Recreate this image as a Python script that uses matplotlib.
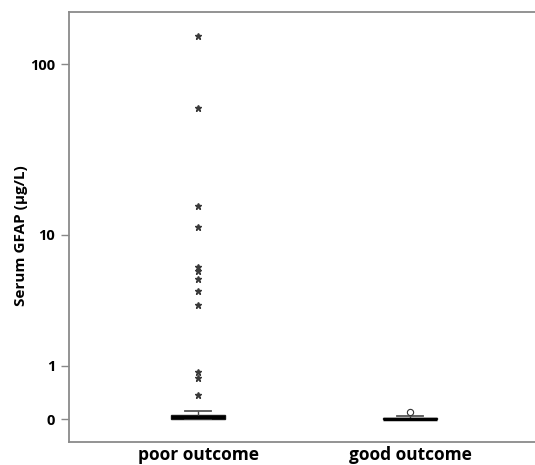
import matplotlib
matplotlib.use("Agg")
import matplotlib.pyplot as plt
import numpy as np

# Data, serum GFAP in ug/L
groups = ["poor outcome", "good outcome"]
poor_box = dict(whislo=0.0, q1=0.0, med=0.025, q3=0.06, whishi=0.118)
good_box = dict(whislo=0.0, q1=0.0, med=0.005, q3=0.015, whishi=0.045)
poor_extremes = [144.5, 56.5, 15.0, 11.2, 6.27, 5.9, 5.22, 4.32, 3.4, 0.84, 0.72, 0.38]
poor_outliers = []
good_outliers = [0.1]
yticks = [0, 1, 10, 100]

fwd = lambda y: np.log10(np.clip(y, -0.999, None) + 1)
inv = lambda y: 10 ** y - 1

plt.rcParams['font.family'] = ['Open Sans', 'DejaVu Sans']

fig = plt.figure(figsize=(5.35, 4.65), dpi=100)
ax = fig.add_axes([0.129, 0.0503, 0.871, 0.9232])
ax.set_yscale('function', functions=(fwd, inv))

stats = []
for lab, b, out in zip(groups, [poor_box, good_box], [poor_outliers, good_outliers]):
    d = dict(b)
    d['label'] = lab
    d['fliers'] = out
    stats.append(d)

ax.bxp(stats, positions=[1, 2], widths=0.255, patch_artist=True, showfliers=True,
       boxprops=dict(facecolor='#a8a8a8', edgecolor='#222222', linewidth=1.0),
       medianprops=dict(color='black', linewidth=2.5),
       whiskerprops=dict(color='#444444', linewidth=1.0),
       capprops=dict(color='#555555', linewidth=1.3),
       capwidths=0.123,
       flierprops=dict(marker='o', markersize=4.5, markerfacecolor='white',
                       markeredgecolor='#333333', markeredgewidth=0.8))

ax.plot([1] * len(poor_extremes), poor_extremes, linestyle='none', marker='*',
        markersize=4.5, color='#3a3a3a')

ax.set_xlim(0.389, 2.59)
ax.set_ylim(-0.252, 197.7)
ax.set_yticks(yticks)
ax.set_yticklabels([str(t) for t in yticks], fontsize=10.5, fontweight='bold')
ax.minorticks_off()
ax.set_xticks([1, 2])
ax.set_xticklabels(groups, fontsize=12.5, fontweight='bold')
ax.tick_params(axis='x', length=0, pad=3)
ax.tick_params(axis='y', length=6, width=1, color='#888888', pad=4)
ax.set_ylabel("Serum GFAP (µg/L)", fontsize=11, fontweight='bold')
ax.yaxis.set_label_coords(-0.088, 0.479)

for s in ['top', 'left', 'bottom']:
    ax.spines[s].set_color('#8a8a8a')
    ax.spines[s].set_linewidth(1.3)
ax.spines['right'].set_visible(False)

fig.savefig('out.png', dpi=100)
